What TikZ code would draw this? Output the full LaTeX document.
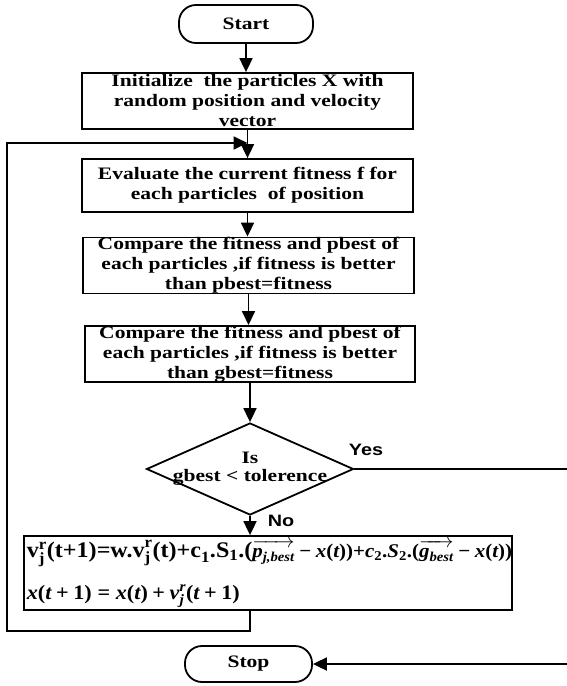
\documentclass[tikz,border=0pt]{standalone}
\usepackage{amsmath}
\usepackage{fontspec}
\setmainfont{Liberation Serif}[FakeStretch=1.23]
\newfontfamily\eqfont{Liberation Serif}[FakeStretch=1.08]
\newfontfamily\labfont{Liberation Sans}[FakeStretch=1.2]
\usetikzlibrary{arrows.meta,shapes.geometric}
\newcommand\T[1]{\text{#1}}
\newcommand\Pl{\mathbin{\T{+}}}
\newcommand\Eqs{\mathrel{\T{=}}}
\newcommand\Mi{\mathbin{\T{\symbol{"2212}}}}
\begin{document}
\begin{tikzpicture}[x=1pt,y=-1pt,line width=1.8pt,
  font=\fontsize{17.5}{20}\selectfont\bfseries,
  box/.style={draw,rectangle,inner sep=0pt,align=center},
  term/.style={draw,rectangle,rounded corners=17pt,inner sep=0pt},
  dia/.style={draw,diamond,inner sep=0pt,minimum width=207pt,minimum height=92pt},
  lab/.style={font=\labfont\fontsize{16.5}{18}\selectfont\bfseries,inner sep=0pt},
  eq/.style={anchor=base west,inner sep=0pt},
  arr/.style={-{Triangle[length=14pt,width=13pt]}}]
\useasboundingbox (0,0) rectangle (567,686);
\node[term,minimum width=134pt,minimum height=38pt] (start) at (246,24) {Start};
\node[box,minimum width=331pt,minimum height=56pt] (init) at (247.5,101)
  {Initialize\ \ the particles X with\\random position and velocity\\vector};
\node[box,minimum width=331pt,minimum height=53pt] (eval) at (247.5,185.5)
  {Evaluate the current fitness f for\\each particles\ \ of position};
\node[box,minimum width=331pt,minimum height=55pt] (cmp1) at (248.5,265.5)
  {Compare the fitness and pbest of\\each particles ,if fitness is better\\than pbest=fitness};
\node[box,minimum width=330pt,minimum height=56pt] (cmp2) at (250,354)
  {Compare the fitness and pbest of\\each particles ,if fitness is better\\than gbest=fitness};
\node[dia] (dec) at (250,469) {};
\node[align=center,inner sep=0pt] (dectext) at (250,469) {Is\\[-2pt]gbest < tolerence};
\node[box,minimum width=488pt,minimum height=74pt] (upd) at (268,573) {};
\node[eq,font=\eqfont\bfseries] (eq1) at (26,557)
  {{\fontsize{22.3}{22}\selectfont$\T{v}^{\T{r}}_{\T{j}}\T{(t+1)=w.v}^{\T{r}}_{\T{j}}\T{(t)+c}_{\T{1}}\T{.S}_{\T{1}}\T{.(}$}{\fontsize{19.4}{22}\selectfont$\overrightarrow{\T{\itshape p}_{\T{\itshape j,best}}}\Mi\T{\itshape x}\T{(}\T{\itshape t}\T{))+}\T{\itshape c}_{\T{2}}\T{.\itshape S}_{\T{2}}\T{.(}\overrightarrow{\T{\itshape g}_{\T{\itshape best}}}\Mi\T{\itshape x}\T{(}\T{\itshape t}\T{))}$}};
\node[eq,font=\eqfont\fontsize{20.5}{22}\selectfont\bfseries] (eq2) at (26,599)
  {$\T{\itshape x}\T{(}\T{\itshape t}\Pl\T{1)}\Eqs\T{\itshape x}\T{(}\T{\itshape t}\T{)}\Pl\T{\itshape v}^{\T{\itshape r}}_{\T{\itshape j}}\T{(}\T{\itshape t}\Pl\T{1)}$};
\node[term,minimum width=127pt,minimum height=36pt] (stop) at (248.5,664) {Stop};
\node[lab] (yes) at (366,450) {Yes};
\node[lab] (no) at (281,521) {No};
\coordinate (fbB) at (7,631);
\coordinate (fbT) at (7,143);
\coordinate (r1) at (575,469);
\coordinate (r2) at (575,664);
\draw[arr] (start.south) -- (start.south |- init.north);
\draw[arr] (init.south) -- (init.south |- eval.north);
\draw[arr] (eval.south) -- (eval.south |- cmp1.north);
\draw[arr] (cmp1.south) -- (cmp1.south |- cmp2.north);
\draw[arr] (cmp2.south) -- (dec.north);
\draw[arr] (dec.south) -- (dec.south |- upd.north);
\draw[arr] (upd.south -| dec.south) |- (fbB) -- (fbT) -- (fbT -| eval.north);
\draw[arr] (dec.east) -- (r1) -- (r2) -- (stop.east);
\end{tikzpicture}
\end{document}
